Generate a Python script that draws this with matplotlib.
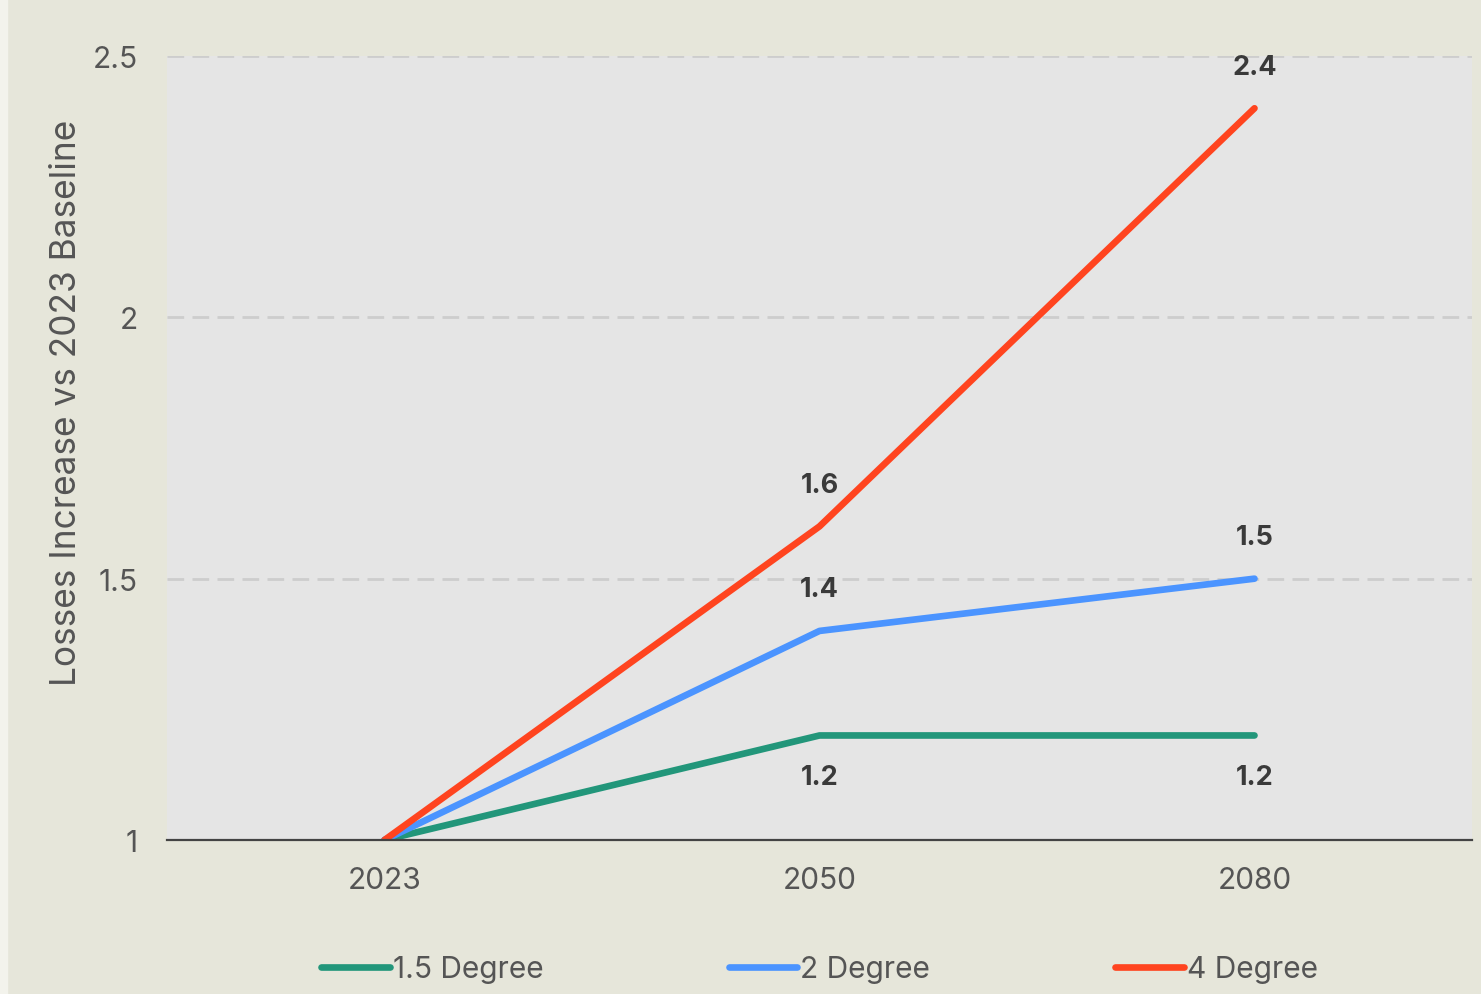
import matplotlib.pyplot as plt
from matplotlib.patches import Rectangle

plt.rcParams['font.family'] = ['Inter', 'DejaVu Sans']

years = ['2023', '2050', '2080']
deg_15 = [1.0, 1.2, 1.2]
deg_2 = [1.0, 1.4, 1.5]
deg_4 = [1.0, 1.6, 2.4]
series = [('1.5 Degree', deg_15, '#22967a'),
          ('2 Degree', deg_2, '#4b94ff'),
          ('4 Degree', deg_4, '#ff441f')]
label_below = {'1.5 Degree'}

fig = plt.figure(figsize=(14.81, 9.95), dpi=100, facecolor='#e6e6da')
# pale strip on the left edge
fig.patches.append(Rectangle((0, 0), 7 / 1481, 1, transform=fig.transFigure,
                             color='#f3f3ec', zorder=0))

ax = fig.add_axes([167 / 1481, 1 - 841 / 995, 1305 / 1481, 784 / 995])
ax.set_facecolor('#e5e5e5')

x = list(range(len(years)))
for name, vals, color in series:
    ax.plot(x, vals, color=color, lw=4.8, solid_capstyle='round',
            solid_joinstyle='round', label=name, zorder=3)
    for i, v in enumerate(vals[1:], start=1):
        off = -30 if name in label_below else 30
        ax.annotate(f'{v:g}', (i, v), xytext=(0, off), textcoords='offset points',
                    ha='center', va='center', fontsize=19.5, fontweight='bold',
                    color='#3a3a3a', zorder=4)

ax.set_xlim(-0.5, 2.5)
ax.set_ylim(1, 2.5)
ax.set_xticks(x)
ax.set_xticklabels(years)
ax.set_yticks([1, 1.5, 2, 2.5])
ax.set_yticklabels(['1', '1.5', '2', '2.5'])
ax.tick_params(length=0, labelsize=21.5, labelcolor='#555555')
ax.tick_params(axis='x', pad=19)
ax.tick_params(axis='y', pad=21)

ax.grid(axis='y', color='#cdcdcd', lw=2, ls=(0, (6, 3)), zorder=1)
ax.grid(axis='x', visible=False)
for s in ['top', 'right', 'left']:
    ax.spines[s].set_visible(False)
ax.spines['bottom'].set_color('#444444')
ax.spines['bottom'].set_linewidth(1.6)
ax.spines['bottom'].set_zorder(5)

fig.text(67 / 1481, 1 - 403 / 995, 'Losses Increase vs 2023 Baseline',
         rotation=90, ha='center', va='center', fontsize=25.4,
         color='#555555')

ax.legend(loc='center', bbox_to_anchor=(0.5, -(970 - 841) / 784), ncol=3,
          frameon=False, fontsize=21.5, handlelength=2.3, handletextpad=0.1,
          columnspacing=6.2, labelcolor='#555555')

fig.savefig('out.png', dpi=100, facecolor=fig.get_facecolor())
